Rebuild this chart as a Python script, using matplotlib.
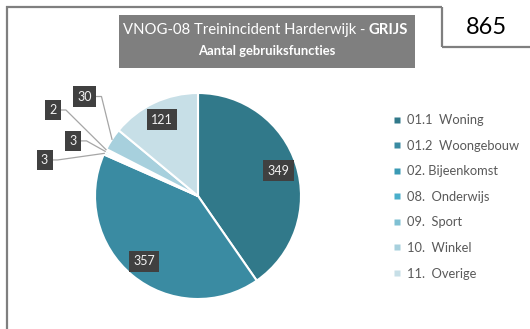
import matplotlib
matplotlib.use("Agg")
import matplotlib.pyplot as plt
import numpy as np
from matplotlib.patches import Rectangle
from matplotlib.lines import Line2D

plt.rcParams['font.family'] = ['Lato', 'DejaVu Sans']

# gebruiksfuncties en aantallen
categories = ["01.1  Woning", "01.2  Woongebouw", "02. Bijeenkomst", "08.  Onderwijs",
              "09.  Sport", "10.  Winkel", "11.  Overige"]
counts = [349, 357, 3, 3, 2, 30, 121]
colors = ["#31798A", "#3A8BA2", "#3A9AB4", "#4AAFCB", "#7FC0D3", "#A7D0DD", "#C7DFE7"]
total = 865

# labels buiten de taart voor de kleine segmenten (positie in taart-eenheden)
outside_pos = {2: (-1.49, 0.35), 3: (-1.21, 0.535), 4: (-1.41, 0.835), 5: (-1.10, 0.966)}

W, H = 530, 329
fig = plt.figure(figsize=(W / 100, H / 100), dpi=100)

# overlay in pixelcoordinaten voor kader en titel
bg = fig.add_axes([0, 0, 1, 1])
bg.set_xlim(0, W)
bg.set_ylim(H, 0)
bg.axis('off')

frame = dict(color="#7F7F7F", lw=1.6, solid_capstyle='butt', zorder=1)
bg.plot([7, 7], [6.2, H], **frame)
bg.plot([6.2, 442], [7, 7], **frame)
bg.plot([442, 442], [7, 47], **frame)
bg.plot([442, W], [47, 47], **frame)

bg.add_patch(Rectangle((119, 15), 296, 53, fc="#7F7F7F", ec="none", zorder=2))
t1 = bg.text(0, 30, "VNOG-08 Treinincident Harderwijk - ", color="white", fontsize=10.7,
             ha='left', va='center', zorder=3)
t2 = bg.text(0, 30, "GRIJS", color="white", fontsize=10.7, fontweight='bold',
             ha='left', va='center', zorder=3)
bg.text(267, 51, "Aantal gebruiksfuncties", color="white", fontsize=9.4,
        fontweight='bold', ha='center', va='center', zorder=3)
bg.text(486, 28, str(total), color="black", fontsize=17, ha='center', va='center')

# taart
cx, cy, r = 198, 196, 103
ax = fig.add_axes([(cx - r) / W, (H - cy - r) / H, 2 * r / W, 2 * r / H])
wedges, _ = ax.pie(counts, colors=colors, startangle=90, counterclock=False,
                   wedgeprops=dict(edgecolor="white", linewidth=1.5))
ax.set_xlim(-1, 1)
ax.set_ylim(-1, 1)
ax.set_aspect('equal')
ax.axis('off')

box = dict(boxstyle='square,pad=0.35', fc="#404040", ec="none")
texts = {}
for i, w in enumerate(wedges):
    mid = np.deg2rad((w.theta1 + w.theta2) / 2)
    if i in outside_pos:
        x, y = outside_pos[i]
    else:
        x, y = 0.82 * np.cos(mid), 0.82 * np.sin(mid)
    texts[i] = ax.text(x, y, str(counts[i]), color="#F2F2F2", fontsize=9,
                       ha='center', va='center', bbox=box, clip_on=False, zorder=5)

fig.canvas.draw()
rend = fig.canvas.get_renderer()

# titelregel gecentreerd: normaal deel + vetgedrukt deel
w1 = t1.get_window_extent(rend).width
w2 = t2.get_window_extent(rend).width
left = 265.5 - (w1 + w2) / 2
t1.set_x(left)
t2.set_x(left + w1)

# verbindingslijnen van de buitenlabels naar het segment
inv = ax.transData.inverted()
for i in outside_pos:
    w = wedges[i]
    mid = np.deg2rad((w.theta1 + w.theta2) / 2)
    ex, ey = np.cos(mid), np.sin(mid)
    bb = texts[i].get_bbox_patch().get_window_extent(rend)
    x0, y0 = inv.transform((bb.x1, (bb.y0 + bb.y1) / 2))
    x1 = x0 + 0.05
    ax.plot([x0, x1, ex], [y0, y0, ey], color="#A6A6A6", lw=0.9, clip_on=False, zorder=4)

handles = [Line2D([], [], marker='s', ls='none', markersize=4.5, markerfacecolor=c,
                  markeredgecolor='none') for c in colors]
fig.legend(handles, categories, loc='upper left', bbox_to_anchor=(388 / W, 1 - 109 / H),
           frameon=False, fontsize=9.3, labelcolor="#595959", handlelength=0.6,
           handletextpad=0.5, labelspacing=1.05, borderaxespad=0)

fig.savefig("out.png", dpi=100, facecolor="white")
